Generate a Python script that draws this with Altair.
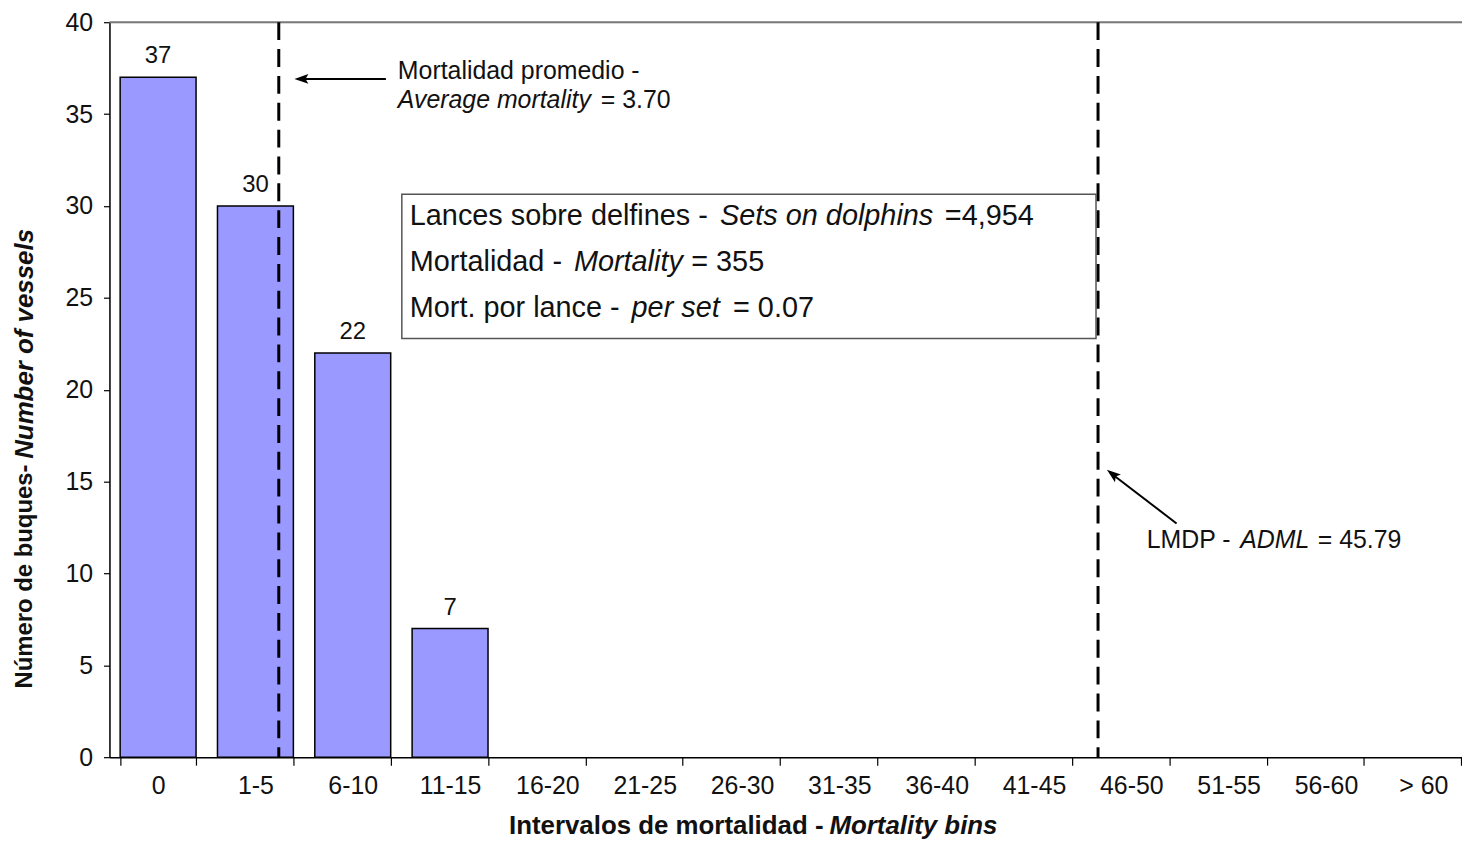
import altair as alt
import pandas as pd

# ---- data ----
bins = ["0", "1-5", "6-10", "11-15", "16-20", "21-25", "26-30", "31-35",
        "36-40", "41-45", "46-50", "51-55", "56-60", "> 60"]
vessels = [37, 30, 22, 7, 0, 0, 0, 0, 0, 0, 0, 0, 0, 0]
ref_names = ["mean", "adml"]
ref_values = [3.70, 45.79]      # average mortality, ADML
y_ticks = [0, 5, 10, 15, 20, 25, 30, 35, 40]

FONT = "Liberation Sans, Arial, sans-serif"
TXT = "#111111"
W_RANGE = 1370   # plot range (slightly wider than visible, as in the original crop)
H = 739

bars_df = pd.DataFrame({"bin": bins, "count": vessels})
ref_df = pd.DataFrame({"name": ref_names, "value": ref_values})
one = pd.DataFrame({"a": [0]})

xband = alt.X("bin:N", sort=bins, title=None,
              scale=alt.Scale(domain=bins, range=[0, W_RANGE], paddingInner=0.22, paddingOuter=0.11),
              axis=alt.Axis(labelAngle=0, tickBand="extent", tickSize=8, tickColor="black",
                            domainColor="black", domainWidth=1.5, tickWidth=1.2,
                            labelFontSize=25, labelFont=FONT, labelColor=TXT, labelPadding=9,
                            grid=False))
yq = alt.Y("count:Q", title=None,
           scale=alt.Scale(domain=[0, 40], nice=False, range=[H, 0]),
           axis=alt.Axis(values=y_ticks, tickSize=6, tickColor="black", domainColor="black",
                         domainWidth=1.5, tickWidth=1.2, labelFontSize=25, labelFont=FONT,
                         labelColor=TXT, labelPadding=11, grid=False))

bars = alt.Chart(bars_df).transform_filter("datum.count > 0").mark_bar(
    color="#9999FF", stroke="black", strokeWidth=1.5).encode(x=xband, y=yq)
bar_labels = alt.Chart(bars_df).transform_filter("datum.count > 0").mark_text(
    baseline="bottom", dy=-9, fontSize=24, font=FONT, color=TXT
).encode(x=alt.X("bin:N", sort=bins), y=alt.Y("count:Q"), text="count:Q")
band_layer = alt.layer(bars, bar_labels)

xq_scale = alt.Scale(domain=[0, 14], range=[0, W_RANGE], nice=False, zero=False)
top_df = pd.DataFrame({"x0": [0], "x1": [14], "y": [40]})
top_rule = alt.Chart(top_df).mark_rule(color="#777777", strokeWidth=2).encode(
    x=alt.X("x0:Q", scale=xq_scale, axis=None), x2="x1:Q", y=alt.Y("y:Q"))
dashed = alt.Chart(ref_df).transform_calculate(pos="1 + datum.value / 5").mark_rule(
    color="black", strokeWidth=3, strokeDash=[18, 9]
).encode(x=alt.X("pos:Q", scale=xq_scale, axis=None), y=alt.Y(datum=40), y2=alt.Y2(datum=0))
q_layer = alt.layer(top_rule, dashed)


def txt(s, x, y, size, italic=False, bold=False, align="left", angle=0):
    return alt.Chart(one).mark_text(
        text=s, align=align, baseline="middle", fontSize=size, font=FONT,
        fontStyle="italic" if italic else "normal", fontWeight="bold" if bold else "normal",
        color=TXT, angle=angle
    ).encode(x=alt.value(x), y=alt.value(y))


def seg(x1, y1, x2, y2, w=2):
    return alt.Chart(one).mark_rule(color="black", strokeWidth=w).encode(
        x=alt.value(x1), x2=alt.value(x2), y=alt.value(y1), y2=alt.value(y2))


ARROW = "M-1,0L1,-0.7L0.6,0L1,0.7Z"


def head(x, y, angle):
    return alt.Chart(one).mark_point(shape=ARROW, filled=True, color="black", size=196,
                                     angle=angle, opacity=1).encode(x=alt.value(x), y=alt.value(y))


box = alt.Chart(one).mark_rect(fill="white", stroke="#555555", strokeWidth=1.5).encode(
    x=alt.value(294), x2=alt.value(992), y=alt.value(173), y2=alt.value(318))

annots = [
    box,
    # box text
    txt("Lances sobre delfines -", 302, 195, 29),
    txt("Sets on dolphins", 614, 195, 29, italic=True),
    txt("=4,954", 840, 195, 29),
    txt("Mortalidad -", 302, 241, 29),
    txt("Mortality", 467, 241, 29, italic=True),
    txt("= 355", 585, 241, 29),
    txt("Mort. por lance -", 302, 287, 29),
    txt("per set", 525, 287, 29, italic=True),
    txt("= 0.07", 627, 287, 29),
    # average mortality
    txt("Mortalidad promedio -", 290, 49, 25),
    txt("Average mortality", 290, 78, 25, italic=True),
    txt("= 3.70", 494, 78, 25),
    seg(278, 57, 194, 57),
    head(193, 57, 0),
    # ADML
    txt("LMDP -", 1043, 521, 25),
    txt("ADML", 1137, 521, 25, italic=True),
    txt("= 45.79", 1215, 521, 25),
    seg(1073, 504, 1009, 455),
    head(1008.5, 454.3, 37.6),
    # axis titles
    txt("Número de buques-", -85, 670, 24, bold=True, angle=270),
    txt("Number of vessels", -85, 439, 26, bold=True, italic=True, angle=270),
    txt("Intervalos  de mortalidad  -", 718, 808, 26, bold=True, align="right"),
    txt("Mortality  bins", 724, 808, 26, bold=True, italic=True),
]

chart = alt.layer(band_layer, q_layer, *annots).resolve_scale(x="independent").properties(
    width=1360, height=H,
    autosize=alt.AutoSizeParams(type="none"),
    padding={"left": 102, "top": 12, "right": 0, "bottom": 84},
).configure_view(stroke=None).configure(background="white")

chart.save("out.html", embed_options={"renderer": "svg", "actions": False})
